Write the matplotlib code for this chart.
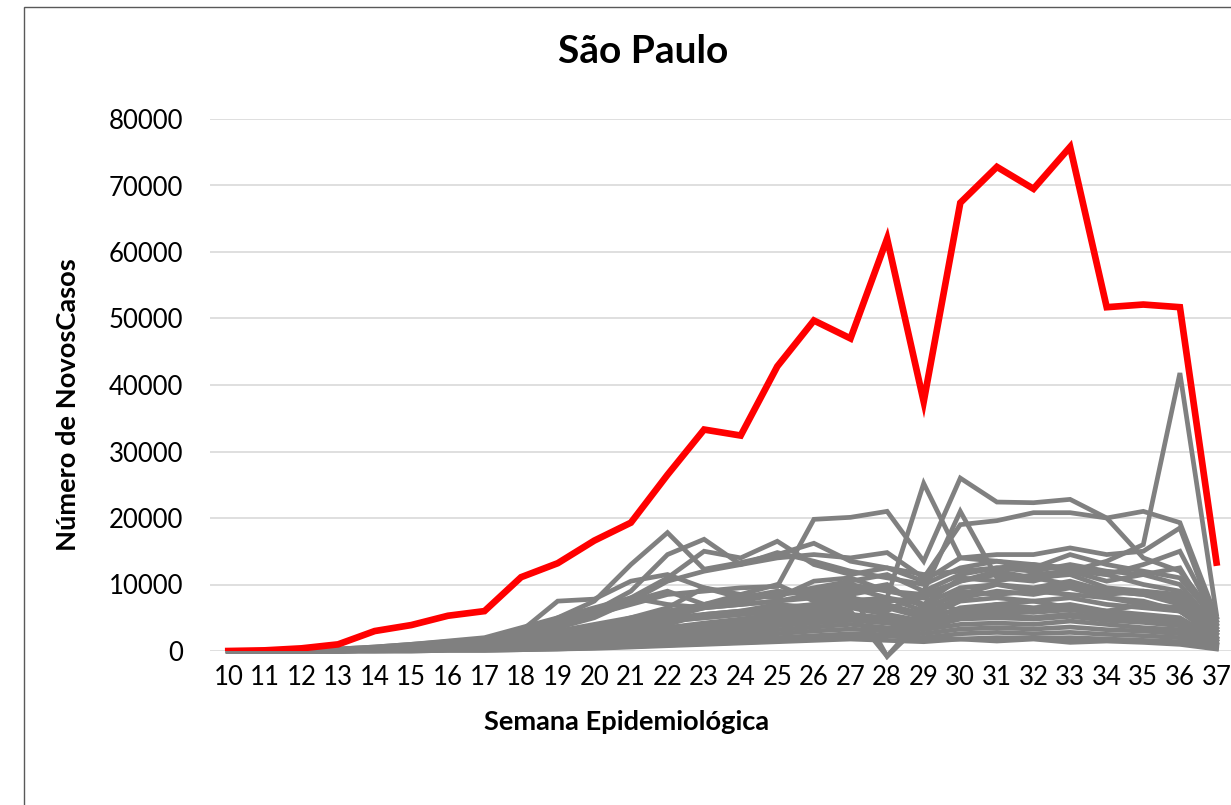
import matplotlib
matplotlib.use("Agg")
import matplotlib.pyplot as plt
from matplotlib.patches import Rectangle

plt.rcParams['font.family'] = ['Lato', 'DejaVu Sans']

SCALE = 1000  # values below are in thousands of cases

weeks = list(range(10, 38))
week_labels = [str(w) for w in weeks]

sao_paulo = [0, 0.1, 0.4, 1.0, 3.0, 3.9, 5.3, 6.0, 11.1, 13.2, 16.6, 19.3, 26.5, 33.3,
             32.4, 42.8, 49.7, 47.0, 62.0, 37.5, 67.4, 72.8, 69.5, 75.8, 51.7, 52.1, 51.7, 13.3]

g01 = [0, 0, 0.1, 0.2, 0.4, 0.7, 1.0, 1.4, 2.2, 3.0, 4.0, 5.0, 6.0, 7.0, 8.0, 8.5, 9.5, 10.5, 11.5, 9.0, 11.5, 12.5, 13.0, 12.0, 13.5, 16.0, 41.8, 5.5]
g02 = [0, 0, 0.1, 0.2, 0.5, 0.8, 1.2, 1.6, 2.5, 4.0, 5.5, 7.0, 8.5, 9.0, 9.5, 9.7, 19.8, 20.1, 21.0, 13.5, 26.0, 22.4, 22.3, 22.8, 20.0, 14.0, 12.0, 5.0]
g03 = [0, 0, 0.1, 0.3, 0.6, 1.0, 1.4, 1.8, 3.0, 4.5, 6.0, 7.5, 10.5, 12.0, 13.0, 14.0, 14.5, 14.0, 14.8, 11.0, 19.0, 19.6, 20.8, 20.8, 20.0, 21.0, 19.3, 5.0]
g04 = [0, 0, 0, 0.1, 0.3, 0.5, 0.8, 1.1, 1.8, 2.5, 3.5, 4.5, 5.0, 5.5, 6.0, 6.5, 7.0, 7.5, 8.0, 25.2, 14.0, 13.5, 12.5, 14.5, 13.0, 12.0, 11.0, 4.5]
g05 = [0, 0, 0, 0.1, 0.3, 0.5, 0.8, 1.0, 1.5, 2.0, 3.0, 4.0, 4.5, 5.0, 5.5, 6.0, 6.5, 7.0, 6.0, 9.0, 21.0, 11.0, 10.5, 12.0, 11.5, 10.0, 9.0, 4.0]
g06 = [0, 0, 0.1, 0.3, 0.6, 1.0, 1.5, 2.0, 3.5, 5.0, 7.5, 13.0, 17.8, 12.3, 13.3, 14.5, 16.2, 13.5, 12.5, 10.5, 14.0, 14.5, 14.5, 15.5, 14.5, 15.0, 18.5, 4.0]
g07 = [0, 0, 0.1, 0.2, 0.5, 0.8, 1.2, 1.6, 2.8, 4.5, 6.0, 9.0, 14.5, 16.8, 13.0, 14.8, 13.5, 12.0, 11.0, 10.0, 12.5, 13.5, 13.0, 12.5, 11.5, 13.0, 15.0, 4.5]
g08 = [0, 0, 0, 0.2, 0.4, 0.7, 1.0, 1.3, 2.5, 4.0, 5.5, 8.0, 11.0, 15.0, 14.0, 16.5, 13.0, 11.5, 12.5, 11.5, 12.0, 12.5, 12.0, 13.0, 12.0, 11.5, 12.5, 3.5]
g09 = [0, 0, 0.1, 0.2, 0.4, 0.6, 0.9, 1.3, 3.0, 7.5, 7.8, 10.5, 11.5, 9.5, 8.0, 9.0, 8.5, 9.5, 8.0, 7.0, 9.5, 10.0, 9.5, 10.5, 9.0, 8.5, 7.0, 3.0]
g10 = [0, 0, 0, 0.1, 0.3, 0.5, 0.8, 1.1, 2.0, 3.5, 5.0, 7.5, 9.0, 7.0, 8.5, 10.0, 7.5, 8.0, 7.0, 5.5, 8.0, 9.0, 8.5, 9.5, 8.0, 7.5, 6.0, 2.5]
g11 = [0, 0, 0, 0.1, 0.2, 0.4, 0.6, 0.9, 1.5, 2.5, 3.5, 5.0, 6.5, 9.5, 8.5, 8.0, 10.5, 11.0, 9.0, 8.5, 10.5, 11.5, 11.0, 11.5, 9.5, 9.0, 8.0, 3.0]
g12 = [0, 0, 0, 0.1, 0.2, 0.4, 0.6, 0.8, 1.3, 2.0, 3.0, 4.0, 5.0, 6.5, 7.0, 7.5, 8.5, 9.0, 10.0, 6.5, 8.5, 10.0, 9.0, 8.5, 8.0, 7.0, 6.5, 2.0]
g13 = [0, 0, 0, 0.1, 0.2, 0.3, 0.5, 0.7, 1.2, 1.8, 2.5, 3.5, 4.0, 5.5, 6.0, 7.0, 6.5, 7.5, 6.5, 5.0, 7.5, 8.0, 7.5, 8.0, 7.0, 6.5, 6.0, 2.0]
g14 = [0, 0, 0, 0.1, 0.2, 0.3, 0.5, 0.7, 1.0, 1.5, 2.2, 3.0, 3.5, 4.0, 4.5, 5.0, 5.5, 6.0, -0.8, 5.5, 6.0, 6.5, 6.0, 6.5, 5.5, 5.0, 4.5, 1.5]
g15 = [0, 0, 0, 0, 0.1, 0.2, 0.4, 0.6, 0.9, 1.3, 1.8, 2.5, 3.0, 3.5, 4.0, 4.5, 5.0, 9.0, -0.8, 4.5, 5.0, 5.5, 5.0, 5.5, 5.0, 4.5, 4.0, 1.0]
g16 = [0, 0, 0, 0.1, 0.2, 0.3, 0.5, 0.7, 1.1, 1.6, 2.2, 3.0, 3.5, 4.2, 4.8, 5.5, 6.0, 6.5, 5.5, 4.5, 6.5, 7.0, 6.5, 7.0, 6.0, 5.5, 5.0, 1.8]
g17 = [0, 0, 0, 0, 0.1, 0.2, 0.3, 0.5, 0.8, 1.2, 1.6, 2.0, 2.5, 3.0, 3.5, 4.0, 4.5, 5.0, 4.5, 4.0, 5.0, 5.5, 5.0, 5.5, 5.0, 4.5, 4.0, 1.5]
g18 = [0, 0, 0, 0, 0.1, 0.2, 0.3, 0.4, 0.6, 0.9, 1.2, 1.6, 2.0, 2.4, 2.8, 3.2, 3.6, 4.0, 3.5, 3.2, 4.0, 4.2, 4.0, 4.5, 4.0, 3.5, 3.2, 1.0]
g19 = [0, 0, 0, 0, 0.1, 0.1, 0.2, 0.3, 0.5, 0.7, 1.0, 1.3, 1.6, 2.0, 2.3, 2.6, 3.0, 3.3, 3.0, 2.6, 3.3, 3.5, 3.3, 3.6, 3.2, 3.0, 2.6, 0.8]
g20 = [0, 0, 0, 0, 0, 0.1, 0.2, 0.2, 0.4, 0.5, 0.7, 1.0, 1.2, 1.5, 1.8, 2.0, 2.3, 2.6, 2.4, 2.0, 2.6, 2.8, 2.6, 2.8, 2.5, 2.3, 2.0, 0.6]
g21 = [0, 0, 0, 0, 0, 0, 0.1, 0.1, 0.2, 0.3, 0.4, 0.6, 0.8, 1.0, 1.2, 1.4, 1.6, 1.8, 1.6, 1.4, 1.8, 2.0, 1.9, 2.0, 1.8, 1.6, 1.4, 0.4]
g22 = [0, 0, 0, 0, 0, 0, 0.1, 0.1, 0.2, 0.3, 0.5, 0.7, 0.9, 1.1, 1.3, 1.5, 2.0, 2.2, 2.3, 1.8, 1.8, 1.5, 1.8, 1.3, 1.5, 1.3, 1.0, 0.3]
g23 = [0, 0, 0, 0.1, 0.3, 0.5, 0.8, 1.0, 1.6, 2.4, 3.4, 4.5, 5.5, 6.5, 7.0, 7.5, 8.0, 8.5, 9.5, 7.0, 11.0, 10.5, 11.5, 12.0, 10.5, 11.5, 10.0, 3.5]
g24 = [0, 0, 0, 0.1, 0.2, 0.4, 0.6, 0.9, 1.4, 2.0, 2.8, 3.8, 4.5, 5.0, 5.5, 6.0, 7.0, 7.5, 8.0, 6.0, 9.0, 8.5, 9.0, 10.0, 8.5, 9.0, 8.5, 3.0]
g25 = [0, 0, 0, 0.1, 0.2, 0.3, 0.5, 0.7, 1.1, 1.6, 2.2, 3.0, 3.5, 4.0, 4.5, 5.5, 6.0, 6.5, 7.5, 8.0, 6.0, 7.0, 7.5, 6.5, 6.0, 7.0, 6.0, 2.5]
g26 = [0, 0, 0, 0, 0.1, 0.2, 0.4, 0.5, 0.8, 1.2, 1.7, 2.3, 2.8, 3.3, 3.8, 4.3, 5.0, 5.5, 5.0, 4.5, 5.5, 6.0, 5.8, 6.2, 5.5, 5.0, 4.5, 1.5]
g27 = [0, 0, 0, 0.1, 0.2, 0.4, 0.7, 1.0, 2.2, 5.0, 6.5, 8.0, 7.0, 6.5, 7.5, 8.5, 9.0, 10.0, 9.0, 8.0, 10.5, 12.0, 11.0, 10.0, 9.0, 8.5, 7.5, 3.0]
g28 = [0, 0, 0, 0, 0.1, 0.2, 0.3, 0.5, 0.8, 1.1, 1.5, 2.0, 2.5, 3.0, 3.3, 3.8, 4.2, 4.6, 4.2, 3.5, 4.8, 5.0, 4.8, 5.2, 4.6, 4.3, 3.8, 1.2]

gray_series = [g01, g02, g03, g04, g05, g06, g07, g08, g09, g10, g11, g12, g13, g14,
               g15, g16, g17, g18, g19, g20, g21, g22, g23, g24, g25, g26, g27, g28]

yticks = [0, 10000, 20000, 30000, 40000, 50000, 60000, 70000, 80000]
ytick_labels = [str(v) for v in yticks]

W, H = 1231, 805
fig = plt.figure(figsize=(W / 100, H / 100), dpi=100)

# chart border (extends past right/bottom edges)
fig.patches.append(Rectangle((24 / W, -0.1), 1.2, 1 - 7 / H + 0.1, transform=fig.transFigure,
                             fill=False, edgecolor='#595959', linewidth=1.0, zorder=0))

ax = fig.add_axes([210 / W, 154 / H, 1024.8 / W, 532 / H])
ax.set_xlim(9.5, 37.5)
ax.set_ylim(0, 80000)

for s in gray_series:
    ax.plot(weeks, [v * SCALE for v in s], color='#808080', linewidth=3.4,
            solid_joinstyle='miter', clip_on=False, zorder=2)
ax.plot(weeks, [v * SCALE for v in sao_paulo], color='#FF0000', linewidth=4.8,
        solid_joinstyle='miter', zorder=3)

ax.set_yticks(yticks)
ax.set_yticklabels(ytick_labels)
ax.set_xticks(weeks)
ax.set_xticklabels(week_labels)
ax.tick_params(axis='both', length=0, labelsize=18.5, colors='black')
ax.tick_params(axis='y', pad=19.5)
ax.tick_params(axis='x', pad=10)
ax.grid(axis='y', color='#D9D9D9', linewidth=1.2, zorder=0)
ax.set_axisbelow(True)
for sp in ax.spines.values():
    sp.set_visible(False)
ax.patch.set_alpha(0)

fig.text(643 / W, 1 - 63 / H, 'São Paulo', ha='center', va='baseline',
         fontsize=28, fontweight='bold')
fig.text(627 / W, 1 - 730 / H, 'Semana Epidemiológica', ha='center', va='baseline',
         fontsize=19.6, fontweight='bold')
fig.text(68 / W, 1 - 405 / H, 'Número de NovosCasos', ha='center', va='center',
         rotation=90, fontsize=19.6, fontweight='bold')

fig.savefig('out.png', dpi=100)
